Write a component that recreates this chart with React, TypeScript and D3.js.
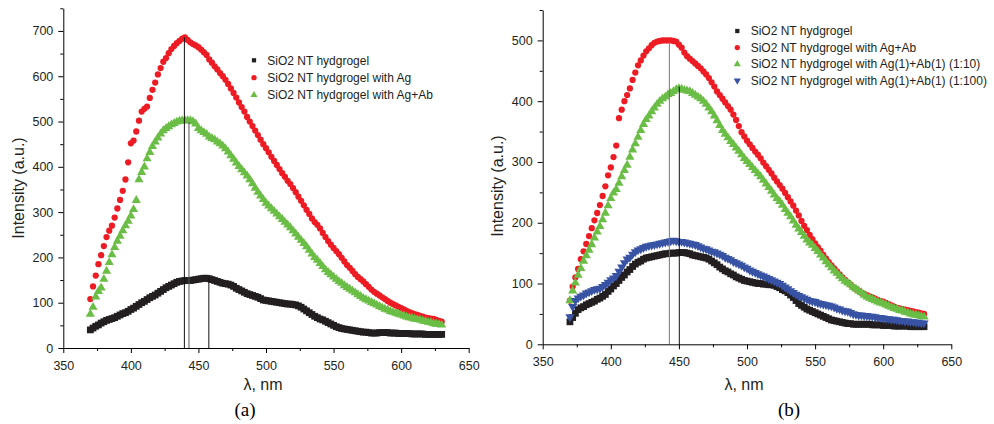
import { useEffect, useRef } from "react";
import * as d3 from "d3";

// wavelength grid of the spectra (nm), 2 nm step
const wavelengths = d3.range(370, 631, 2);

// ---- panel (a) ----
const hydrogelA = [
  40, 44, 48, 51, 55, 58, 61, 63, 65, 67,
  70, 73, 76, 78, 81, 85, 88, 92, 96, 100,
  103, 107, 111, 114, 117, 121, 125, 129, 133, 136,
  139, 142, 145, 147, 148, 149, 149, 149, 150, 151,
  152, 153, 154, 154, 153, 151, 149, 147, 145, 143,
  142, 141, 139, 136, 132, 129, 126, 123, 120, 118,
  116, 114, 112, 109, 106, 105, 104, 103, 102, 101,
  100, 99, 98, 97, 97, 96, 95, 93, 90, 86,
  82, 78, 74, 70, 67, 64, 62, 59, 56, 53,
  50, 47, 45, 43, 42, 41, 40, 39, 38, 37,
  36, 35, 35, 34, 33, 33, 33, 34, 34, 34,
  34, 33, 33, 33, 32, 32, 32, 32, 32, 31,
  31, 31, 31, 31, 30, 30, 30, 30, 30, 30,
  30,
];
const withAgA = [
  108, 136, 160, 185, 205, 225, 245, 259, 270, 288,
  308, 327, 347, 372, 410, 452, 458, 478, 502, 522,
  528, 533, 552, 570, 586, 604, 618, 632, 640, 651,
  660, 667, 673, 678, 683, 686, 680, 675, 671, 668,
  664, 659, 653, 647, 637, 630, 622, 615, 607, 600,
  592, 583, 573, 563, 553, 542, 532, 522, 510, 500,
  490, 480, 470, 460, 450, 441, 432, 422, 413, 404,
  395, 386, 378, 369, 362, 353, 344, 334, 325, 315,
  305, 296, 286, 278, 272, 264, 254, 245, 236, 228,
  221, 214, 207, 199, 191, 183, 177, 170, 163, 157,
  152, 147, 141, 135, 129, 124, 120, 116, 112, 108,
  104, 100, 97, 94, 91, 88, 85, 82, 79, 77,
  75, 73, 71, 69, 67, 66, 65, 64, 62, 60,
  58,
];
const withAgAbA = [
  75, 90, 113, 125, 133, 152, 170, 189, 206, 222,
  236, 247, 259, 270, 280, 292, 306, 326, 372, 388,
  400, 418, 432, 445, 455, 464, 473, 480, 485, 489,
  493, 496, 499, 501, 502, 502, 502, 502, 500, 495,
  485, 480, 476, 472, 466, 463, 460, 455, 451, 446,
  440, 433, 425, 417, 409, 401, 394, 387, 380, 372,
  363, 353, 344, 336, 328, 320, 314, 308, 302, 296,
  290, 284, 278, 272, 266, 259, 252, 245, 238, 231,
  224, 216, 208, 200, 194, 187, 180, 173, 167, 162,
  157, 152, 147, 143, 138, 134, 130, 126, 122, 118,
  114, 110, 107, 104, 101, 98, 95, 92, 89, 86,
  84, 81, 79, 77, 75, 73, 71, 69, 67, 66,
  64, 63, 62, 60, 59, 57, 56, 54, 53, 52,
  51,
];
const peakNmA = [439.6, 443, 457.7];
const peakTopA = [686, 499, 154];
const legendA = ["SiO2 NT hydgrogel", "SiO2 NT hydgrogel with Ag", "SiO2 NT hydgrogel with Ag+Ab"];

// ---- panel (b) ----
const hydrogelB = [
  37, 44, 51, 57, 60, 62, 65, 67, 69, 71,
  74, 76, 79, 82, 87, 91, 96, 100, 105, 110,
  114, 119, 123, 128, 132, 135, 137, 140, 142, 143,
  144, 145, 146, 147, 148, 149, 149, 150, 150, 150,
  151, 151, 151, 150, 149, 147, 146, 145, 144, 143,
  142, 140, 137, 134, 131, 127, 124, 121, 119, 116,
  114, 111, 109, 107, 105, 104, 103, 102, 101, 100,
  100, 99, 99, 98, 98, 97, 95, 93, 90, 88,
  85, 81, 77, 72, 67, 64, 61, 58, 56, 54,
  52, 50, 48, 46, 44, 42, 40, 39, 38, 37,
  36, 35, 34, 34, 33, 33, 33, 33, 33, 33,
  33, 32, 32, 32, 32, 31, 31, 31, 31, 30,
  30, 30, 30, 30, 30, 29, 29, 29, 29, 29,
  29,
];
const withAgAbB = [
  72, 95, 110, 124, 140, 153, 165, 178, 191, 204,
  216, 229, 244, 260, 278, 291, 308, 327, 372, 386,
  400, 410, 421, 435, 447, 459, 467, 475, 482, 487,
  492, 496, 498, 499, 500, 500, 500, 500, 499, 498,
  493, 488, 480, 474, 470, 466, 462, 458, 454, 449,
  444, 438, 431, 424, 416, 410, 404, 398, 392, 386,
  378, 369, 359, 349, 342, 335, 329, 323, 317, 312,
  306, 299, 293, 287, 281, 274, 268, 262, 256, 249,
  242, 235, 228, 220, 212, 203, 195, 188, 180, 173,
  166, 160, 154, 147, 141, 135, 130, 125, 120, 115,
  110, 106, 102, 98, 94, 91, 88, 85, 83, 81,
  79, 77, 75, 73, 71, 70, 68, 66, 64, 62,
  60, 59, 58, 57, 56, 55, 54, 53, 52, 51,
  50,
];
const ratio10B = [
  72, 88, 101, 114, 125, 137, 146, 155, 164, 175,
  185, 194, 205, 216, 228, 240, 249, 255, 265, 276,
  286, 295, 308, 320, 330, 341, 352, 362, 370, 376,
  383, 389, 395, 400, 404, 407, 411, 413, 416, 419,
  421, 420, 418, 417, 416, 413, 410, 407, 404, 400,
  395, 389, 383, 376, 368, 360, 352, 346, 340, 334,
  329, 323, 318, 312, 306, 301, 296, 291, 286, 281,
  276, 270, 264, 258, 252, 246, 240, 235, 229, 222,
  216, 210, 203, 196, 190, 184, 178, 172, 167, 163,
  158, 153, 147, 142, 136, 131, 126, 121, 117, 112,
  108, 104, 101, 98, 94, 91, 88, 85, 81, 78,
  76, 74, 72, 70, 68, 67, 65, 63, 61, 59,
  58, 56, 55, 53, 52, 50, 49, 48, 47, 46,
  45,
];
const ratio100B = [
  45, 62, 72, 76, 79, 81, 84, 86, 88, 90,
  91, 92, 95, 98, 102, 106, 109, 113, 120, 127,
  134, 140, 143, 148, 152, 155, 157, 159, 161, 162,
  163, 164, 165, 166, 167, 168, 169, 170, 171, 170,
  169, 169, 168, 167, 166, 165, 164, 162, 160, 158,
  157, 155, 153, 152, 150, 148, 146, 143, 141, 139,
  136, 134, 132, 130, 127, 125, 122, 120, 118, 116,
  114, 112, 110, 108, 106, 104, 102, 100, 97, 94,
  91, 88, 85, 82, 80, 78, 76, 74, 72, 71,
  70, 68, 67, 66, 65, 64, 63, 61, 59, 58,
  56, 55, 54, 52, 50, 49, 48, 48, 47, 47,
  46, 46, 45, 44, 44, 43, 42, 42, 41, 41,
  40, 39, 39, 38, 38, 37, 37, 36, 36, 35,
  35,
];
const peakNmB = [443, 450.3];
const peakTopB = [498, 424];
const legendB = [
  "SiO2 NT hydgrogel",
  "SiO2 NT hydgrogel with Ag+Ab",
  "SiO2 NT hydgrogel with Ag(1)+Ab(1) (1:10)",
  "SiO2 NT hydgrogel with Ag(1)+Ab(1) (1:100)",
];

const xMajor = [350, 400, 450, 500, 550, 600, 650];
const xMinor = [375, 425, 475, 525, 575, 625];

const BLACK = "#231f20";
const RED = "#ed1c24";
const GREEN = "#6abd45";
const BLUE = "#3853a4";
const FONT = "'Liberation Sans', Arial, sans-serif";

const marks = {
  square: { type: d3.symbolSquare, size: 46, rot: 0, legendSize: 18 },
  circle: { type: d3.symbolCircle, size: 31, rot: 0, legendSize: 22 },
  up: { type: d3.symbolTriangle, size: 36, rot: 0, legendSize: 22 },
  down: { type: d3.symbolTriangle, size: 36, rot: 180, legendSize: 22 },
};

const panels = [
  {
    left: 63.3, right: 468.7, bottom: 348, top: 8.3, yMax: 750,
    yMajor: [0, 100, 200, 300, 400, 500, 600, 700],
    yMinor: [50, 150, 250, 350, 450, 550, 650, 750],
    series: [
      { values: hydrogelA, color: BLACK, mark: marks.square },
      { values: withAgA, color: RED, mark: marks.circle },
      { values: withAgAbA, color: GREEN, mark: marks.up },
    ],
    peaks: peakNmA.map((nm, i) => ({ nm, top: peakTopA[i], color: i === 1 ? "#555" : "#111" })),
    legend: legendA, legendX: 254, legendTextX: 267.3, legendY: 60.3, legendStep: 17.35,
    label: "(a)", labelX: 245, yTitleX: 18, yTitleY: 188,
  },
  {
    left: 542.7, right: 951.3, bottom: 344.3, top: 10, yMax: 550,
    yMajor: [0, 100, 200, 300, 400, 500],
    yMinor: [50, 150, 250, 350, 450, 550],
    series: [
      { values: hydrogelB, color: BLACK, mark: marks.square },
      { values: withAgAbB, color: RED, mark: marks.circle },
      { values: ratio10B, color: GREEN, mark: marks.up },
      { values: ratio100B, color: BLUE, mark: marks.down },
    ],
    peaks: peakNmB.map((nm, i) => ({ nm, top: peakTopB[i], color: i === 0 ? "#777" : "#111" })),
    legend: legendB, legendX: 737.3, legendTextX: 750.7, legendY: 31, legendStep: 16.55,
    label: "(b)", labelX: 789, yTitleX: 497.5, yTitleY: 186,
  },
];

function drawPanel(svg, p) {
  const x = d3.scaleLinear().domain([350, 650]).range([p.left, p.right]);
  const y = d3.scaleLinear().domain([0, p.yMax]).range([p.bottom, p.top]);
  const g = svg.append("g");

  // data markers
  p.series.forEach((s) => {
    const sym = d3.symbol(s.mark.type, s.mark.size)();
    g.append("g")
      .selectAll("path")
      .data(s.values)
      .join("path")
      .attr("d", sym)
      .attr("fill", s.color)
      .attr("transform", (d, i) => `translate(${x(wavelengths[i])},${y(d)}) rotate(${s.mark.rot})`);
  });

  // peak markers
  g.append("g")
    .selectAll("line")
    .data(p.peaks)
    .join("line")
    .attr("x1", (d) => x(d.nm))
    .attr("x2", (d) => x(d.nm))
    .attr("y1", y(0))
    .attr("y2", (d) => y(d.top))
    .attr("stroke", (d) => d.color)
    .attr("stroke-width", 1);

  // axes
  const xAxis = g.append("g")
    .attr("transform", `translate(0,${p.bottom})`)
    .call(d3.axisBottom(x).tickValues(xMajor).tickSize(5).tickSizeOuter(0).tickPadding(8));
  g.append("g")
    .attr("transform", `translate(0,${p.bottom})`)
    .call(d3.axisBottom(x).tickValues(xMinor).tickSize(3).tickSizeOuter(0).tickFormat(() => ""))
    .select(".domain").remove();

  const yAxis = g.append("g")
    .attr("transform", `translate(${p.left},0)`)
    .call(d3.axisLeft(y).tickValues(p.yMajor).tickSize(5).tickSizeOuter(0).tickPadding(5));
  g.append("g")
    .attr("transform", `translate(${p.left},0)`)
    .call(d3.axisLeft(y).tickValues(p.yMinor).tickSize(3).tickSizeOuter(0).tickFormat(() => ""))
    .select(".domain").remove();

  [xAxis, yAxis].forEach((a) => {
    a.selectAll("text").attr("font-family", FONT).attr("font-size", 12.5).attr("fill", BLACK);
  });
  g.selectAll(".domain, .tick line").attr("stroke", "#000").attr("stroke-width", 1);

  // axis titles
  g.append("text")
    .attr("x", (p.left + p.right) / 2 - 3)
    .attr("y", 389.5)
    .attr("text-anchor", "middle")
    .attr("font-family", FONT)
    .attr("font-size", 16)
    .attr("fill", BLACK)
    .text("λ, nm");

  g.append("text")
    .attr("transform", `translate(${p.yTitleX},${p.yTitleY}) rotate(-90)`)
    .attr("dy", "0.35em")
    .attr("text-anchor", "middle")
    .attr("font-family", FONT)
    .attr("font-size", 16)
    .attr("fill", BLACK)
    .text("Intensity (a.u.)");

  g.append("text")
    .attr("x", p.labelX)
    .attr("y", 416)
    .attr("text-anchor", "middle")
    .attr("font-family", "'Liberation Serif', 'Times New Roman', serif")
    .attr("font-size", 19)
    .attr("fill", "#000")
    .text(p.label);

  // legend
  const leg = g.append("g");
  p.legend.forEach((name, i) => {
    const s = p.series[i];
    const cy = p.legendY + i * p.legendStep;
    leg.append("path")
      .attr("d", d3.symbol(s.mark.type, s.mark.legendSize)())
      .attr("fill", s.color)
      .attr("transform", `translate(${p.legendX},${cy}) rotate(${s.mark.rot})`);
    leg.append("text")
      .attr("x", p.legendTextX)
      .attr("y", cy + 4.3)
      .attr("font-family", FONT)
      .attr("font-size", 12)
      .attr("fill", BLACK)
      .text(name);
  });
}

export default function App() {
  const ref = useRef(null);

  useEffect(() => {
    const svg = d3.select(ref.current);
    svg.selectAll("*").remove();
    panels.forEach((p) => drawPanel(svg, p));
  }, []);

  return (
    <svg
      ref={ref}
      width={994}
      height={424}
      style={{ position: "absolute", left: 0, top: 0, background: "#fff" }}
    />
  );
}
